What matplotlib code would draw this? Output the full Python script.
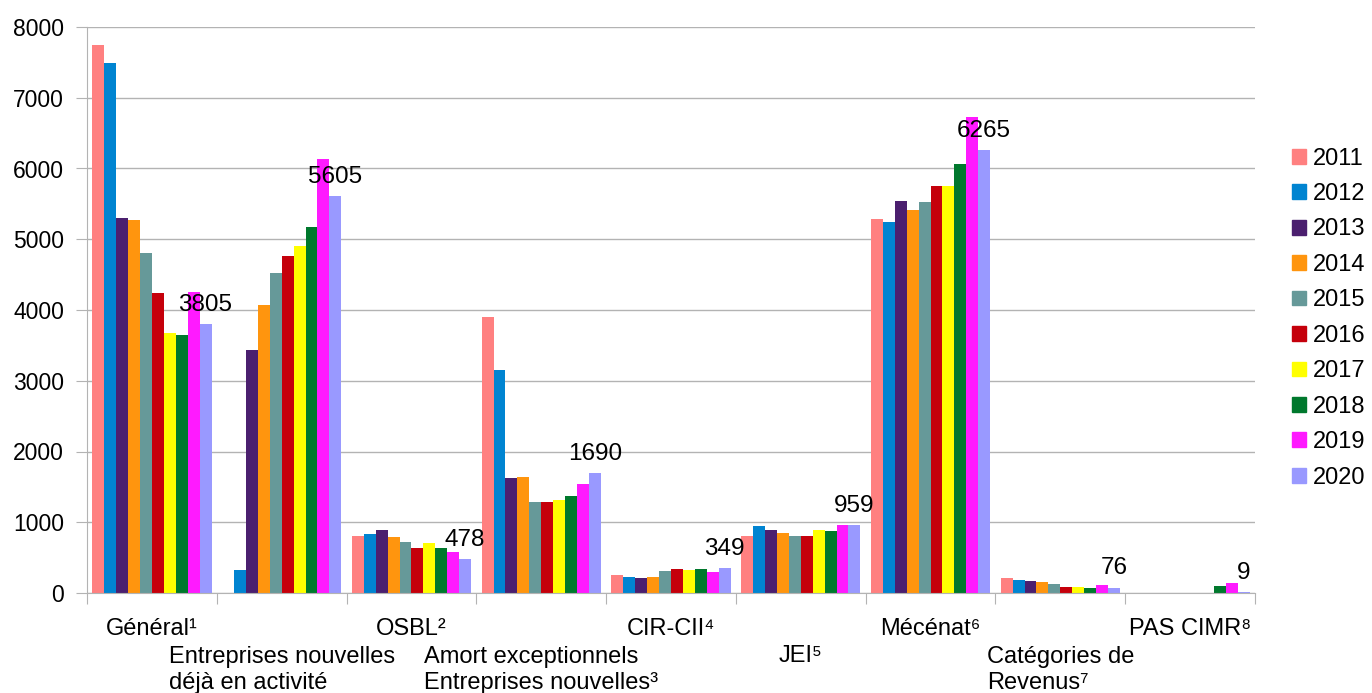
import matplotlib
matplotlib.use('Agg')
import matplotlib.pyplot as plt
from matplotlib.patches import Patch
import numpy as np

plt.rcParams['font.family'] = ['Liberation Sans', 'DejaVu Sans']

# Données par dispositif, une valeur par année 2011 -> 2020
years = ['2011', '2012', '2013', '2014', '2015', '2016', '2017', '2018', '2019', '2020']
categories = ['Général¹', 'Entreprises nouvelles\ndéjà en activité', 'OSBL²',
              'Amort exceptionnels\nEntreprises nouvelles³', 'CIR-CII⁴', 'JEI⁵',
              'Mécénat⁶', 'Catégories de\nRevenus⁷', 'PAS CIMR⁸']

general = [7750, 7490, 5300, 5270, 4800, 4240, 3670, 3640, 4260, 3805]
entreprises_nouvelles = [0, 320, 3430, 4070, 4520, 4760, 4900, 5180, 6130, 5605]
osbl = [800, 840, 895, 785, 725, 640, 700, 640, 585, 478]
amort_exceptionnels = [3900, 3145, 1630, 1645, 1290, 1290, 1320, 1365, 1545, 1690]
cir_cii = [260, 230, 205, 230, 315, 345, 330, 345, 300, 349]
jei = [810, 940, 895, 855, 800, 810, 895, 870, 955, 959]
mecenat = [5280, 5240, 5540, 5410, 5520, 5750, 5750, 6060, 6730, 6265]
categories_revenus = [205, 190, 175, 160, 130, 90, 90, 75, 120, 76]
pas_cimr = [0, 0, 0, 0, 0, 0, 0, 100, 145, 9]

colors = ['#ff8080', '#0084d1', '#4b1f6f', '#ff950e', '#669999',
          '#c5000b', '#ffff00', '#00782d', '#ff1aff', '#9999ff']

data = np.array([general, entreprises_nouvelles, osbl, amort_exceptionnels,
                 cir_cii, jei, mecenat, categories_revenus, pas_cimr])

fig = plt.figure(figsize=(13.72, 6.93), dpi=100)
ax = fig.add_axes([87 / 1372, 100 / 693, (1255 - 87) / 1372, (593 - 27) / 693])

x = np.arange(len(categories))
n = len(years)
w = 0.0919
for i in range(n):
    pos = x - n * w / 2 + (i + 0.5) * w
    ax.bar(pos, data[:, i], width=w, color=colors[i], label=years[i], zorder=2)

# valeur 2020 au-dessus de chaque groupe
last = x - n * w / 2 + (n - 0.5) * w
for xi, v in zip(last, data[:, -1]):
    ax.annotate(str(v), (xi, v), xytext=(0, 9.5), textcoords='offset points',
                ha='center', va='baseline', fontsize=17.5, zorder=5)

ax.set_xlim(-0.5, len(categories) - 0.5)
ax.set_ylim(0, 8000)
ax.set_yticks(np.arange(0, 8001, 1000))
ax.tick_params(axis='y', labelsize=16.5, length=8, color='#b3b3b3', pad=8.5)
ax.yaxis.grid(True, color='#b3b3b3', linewidth=1, zorder=0)
ax.set_axisbelow(True)

ax.set_xticks(np.arange(-0.5, len(categories), 1))
ax.set_xticklabels([])
ax.tick_params(axis='x', length=8, color='#b3b3b3')

# étiquettes en quinconce sous l'axe (la ligne de base suit la dernière ligne)
for i, lab in enumerate(categories):
    nlines = lab.count('\n')
    if i % 2 == 0:
        off = -30
    else:
        off = -(69 + 27 * nlines) * 0.72
    ax.annotate(lab, (i, 0), xycoords=ax.get_xaxis_transform(), xytext=(0, off),
                textcoords='offset points', ha='center', va='baseline',
                multialignment='left', fontsize=17, linespacing=1.21,
                annotation_clip=False)

for s in ['top', 'right']:
    ax.spines[s].set_visible(False)
for s in ['left', 'bottom']:
    ax.spines[s].set_color('#b3b3b3')

handles = [Patch(color=c, label=y) for c, y in zip(colors, years)]
fig.legend(handles=handles, loc='center left', bbox_to_anchor=(0.9417, 0.541),
           frameon=False, fontsize=17, handlelength=0.59, handleheight=0.59,
           handletextpad=0.3, labelspacing=0.57, borderpad=0, borderaxespad=0)

fig.savefig('out.png', dpi=100)
